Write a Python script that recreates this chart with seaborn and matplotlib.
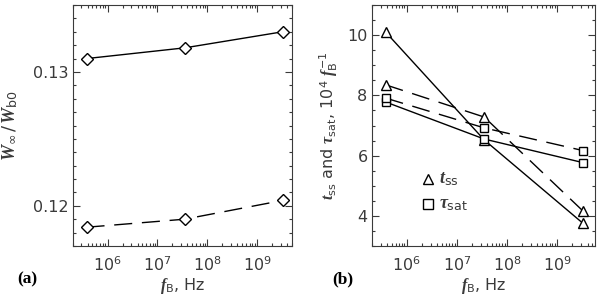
import numpy as np
import matplotlib
matplotlib.use('Agg')
import matplotlib.pyplot as plt
import matplotlib.ticker as mticker
import seaborn as sns

sns.set_style("ticks")
plt.rcParams.update({
    'font.family': ['DejaVu Sans'],
    'font.size': 11.5,
    'mathtext.fontset': 'custom',
    'mathtext.rm': 'DejaVu Sans',
    'mathtext.it': 'Liberation Serif:italic:bold',
    'mathtext.bf': 'Liberation Serif:bold',
    'text.color': '#3a3a3a',
    'axes.labelcolor': '#3a3a3a',
    'xtick.color': '#3a3a3a',
    'ytick.color': '#3a3a3a',
})

# data
f_b = [3.8e5, 3.5e7, 3.2e9]
w_ratio_solid = [0.1310, 0.1318, 0.1330]
w_ratio_dashed = [0.1184, 0.1190, 0.1204]
t_ss_solid = [10.1, 6.52, 3.76]
t_ss_dashed = [8.35, 7.28, 4.17]
tau_sat_solid = [7.78, 6.55, 5.77]
tau_sat_dashed = [7.91, 6.92, 6.17]

DASHED = (0, (13, 7))


def style_axis(ax):
    ax.set_xscale('log')
    ax.tick_params(which='both', direction='in', top=True, right=True,
                   width=0.8, colors='#3a3a3a')
    ax.tick_params(which='major', length=5)
    ax.tick_params(axis='x', which='major', pad=7)
    ax.tick_params(axis='y', which='major', pad=3)
    ax.tick_params(which='minor', length=2.5)
    ax.xaxis.set_major_locator(mticker.LogLocator(base=10, numticks=20))
    ax.xaxis.set_minor_locator(mticker.LogLocator(base=10, subs=np.arange(2, 10), numticks=20))
    ax.xaxis.set_minor_formatter(mticker.NullFormatter())
    for s in ax.spines.values():
        s.set_linewidth(0.8)
        s.set_color('#3a3a3a')
    ax.set_xlabel(r'$f_{\rm B}$, Hz', labelpad=1)


fig = plt.figure(figsize=(6.0, 2.96), dpi=100)
ax1 = fig.add_axes([0.121, 0.169, 0.366, 0.814])
ax2 = fig.add_axes([0.6195, 0.169, 0.372, 0.814])

common = dict(color='black', lw=1.0, estimator=None, legend=False)
mk = dict(mfc='white', mec='black', mew=1.0)

# panel (a)
sns.lineplot(x=f_b, y=w_ratio_solid, ax=ax1, marker='D', ms=6, **mk, **common)
sns.lineplot(x=f_b, y=w_ratio_dashed, ax=ax1, marker='D', ms=6, ls=DASHED, **mk, **common)
style_axis(ax1)
ax1.set_xlim(2e5, 5e9)
ax1.set_ylim(0.117, 0.135)
ax1.yaxis.set_major_locator(mticker.FixedLocator([0.12, 0.13]))
ax1.yaxis.set_major_formatter(mticker.FormatStrFormatter('%.2f'))
ax1.yaxis.set_minor_locator(mticker.MultipleLocator(0.001))
ax1.set_ylabel(r'$W_{\infty}\,/\,W_{\rm b0}$', fontsize=13, labelpad=9)

# panel (b)
sns.lineplot(x=f_b, y=t_ss_solid, ax=ax2, marker='^', ms=6.5, **mk, **common)
sns.lineplot(x=f_b, y=tau_sat_solid, ax=ax2, marker='s', ms=6, **mk, **common)
sns.lineplot(x=f_b, y=t_ss_dashed, ax=ax2, marker='^', ms=6.5, ls=DASHED, **mk, **common)
sns.lineplot(x=f_b, y=tau_sat_dashed, ax=ax2, marker='s', ms=6, ls=DASHED, **mk, **common)
style_axis(ax2)
ax2.set_xlim(2e5, 5.6e9)
ax2.set_ylim(3, 11)
ax2.yaxis.set_major_locator(mticker.MultipleLocator(2))
ax2.yaxis.set_minor_locator(mticker.MultipleLocator(0.5))
ax2.set_ylabel(r'$t_{\rm ss}$ and $\tau_{\rm sat}$, 10$^4$ $f_{\rm B}^{-1}$', labelpad=5)

# legend drawn as markers and text
ax2.plot([0.25], [0.278], transform=ax2.transAxes, marker='^', ms=7.5, ls='none', **mk)
ax2.plot([0.25], [0.174], transform=ax2.transAxes, marker='s', ms=7.5, ls='none', **mk)
ax2.text(0.30, 0.278, r'$t_{\rm ss}$', transform=ax2.transAxes, va='center', fontsize=13)
ax2.text(0.30, 0.174, r'$\tau_{\rm sat}$', transform=ax2.transAxes, va='center', fontsize=13)

fig.text(0.028, 0.057, '(a)', family='Liberation Serif', weight='bold', fontsize=12.5,
         color='black', va='center')
fig.text(0.553, 0.057, '(b)', family='Liberation Serif', weight='bold', fontsize=12.5,
         color='black', va='center')

fig.savefig('out.png', dpi=100)
